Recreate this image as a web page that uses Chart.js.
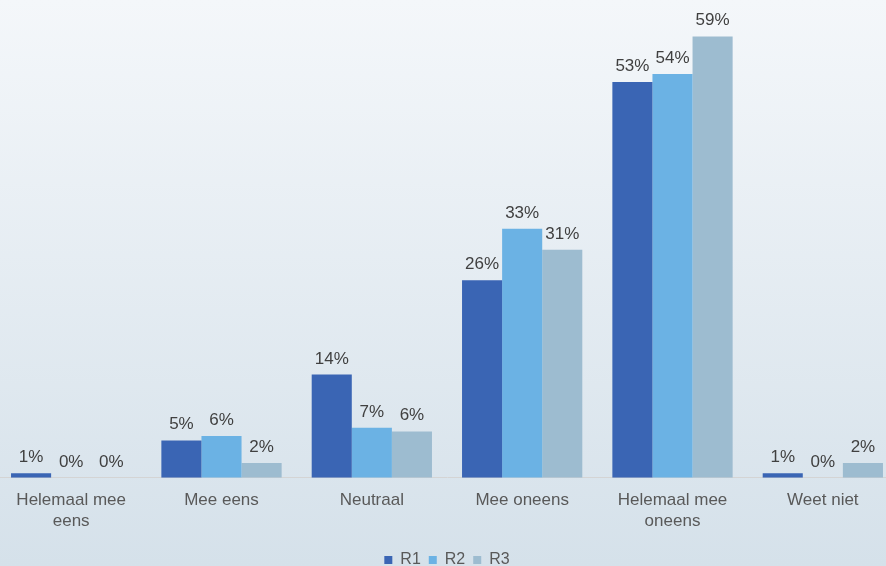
<!DOCTYPE html>
<html>
<head>
<meta charset="utf-8">
<script src="https://cdn.jsdelivr.net/npm/chart.js@4/dist/chart.umd.min.js"></script>
<style>
  html, body {
    margin: 0;
    padding: 0;
    width: 886px;
    height: 566px;
    overflow: hidden;
    background: linear-gradient(to bottom, #f4f7fa 0%, #d5e1ea 100%);
  }
  #wrap {
    position: absolute;
    left: -4px;
    top: 0;
    width: 902px;
    height: 578px;
  }
</style>
</head>
<body>
<div id="wrap"><canvas id="chart" width="902" height="578"></canvas></div>
<script>
const categories = [['Helemaal mee', 'eens'], 'Mee eens', 'Neutraal', 'Mee oneens', ['Helemaal mee', 'oneens'], 'Weet niet'];
const seriesNames = ['R1', 'R2', 'R3'];
const r1Values = [0.6, 5.0, 13.8, 26.4, 52.9, 0.6];
const r2Values = [0, 5.6, 6.7, 33.3, 54.0, 0];
const r3Values = [0, 2.0, 6.2, 30.5, 59.0, 2.0];

const COLORS = ['#3a65b4', '#6bb2e4', '#9dbcd0'];
const FONT = '"Liberation Sans", Arial, sans-serif';

// draws the "x%" text above each bar
const valueLabels = {
  id: 'valueLabels',
  afterDatasetsDraw(chart) {
    const ctx = chart.ctx;
    ctx.save();
    ctx.font = `17px ${FONT}`;
    ctx.fillStyle = '#404040';
    ctx.textAlign = 'center';
    ctx.textBaseline = 'alphabetic';
    chart.data.datasets.forEach((ds, i) => {
      chart.getDatasetMeta(i).data.forEach((bar, j) => {
        ctx.fillText(`${Math.round(ds.data[j])}%`, bar.x, bar.y - 11);
      });
    });
    ctx.restore();
  },
};

const makeDataset = (label, data, color) => ({
  label,
  data,
  backgroundColor: color,
  borderWidth: 0,
  categoryPercentage: 0.8,
  barPercentage: 1.0,
});

new Chart(document.getElementById('chart'), {
  type: 'bar',
  data: {
    labels: categories,
    datasets: [
      makeDataset(seriesNames[0], r1Values, COLORS[0]),
      makeDataset(seriesNames[1], r2Values, COLORS[1]),
      makeDataset(seriesNames[2], r3Values, COLORS[2]),
    ],
  },
  options: {
    responsive: false,
    animation: false,
    layout: {
      padding: { top: 29, left: 0, right: 0, bottom: 0 },
    },
    scales: {
      x: {
        grid: { display: false, drawTicks: false },
        border: { display: true, color: '#d4d4d4', width: 1 },
        ticks: {
          padding: 12,
          color: '#595959',
          font: { family: FONT, size: 17, lineHeight: 1.24 },
          maxRotation: 0,
          autoSkip: false,
        },
      },
      y: {
        display: false,
        min: 0,
        max: 60,
      },
    },
    plugins: {
      legend: {
        position: 'bottom',
        labels: {
          boxWidth: 8,
          boxHeight: 8,
          padding: 8,
          color: '#595959',
          font: { family: FONT, size: 16 },
        },
      },
      tooltip: { enabled: false },
    },
  },
  plugins: [valueLabels],
});
</script>
</body>
</html>
